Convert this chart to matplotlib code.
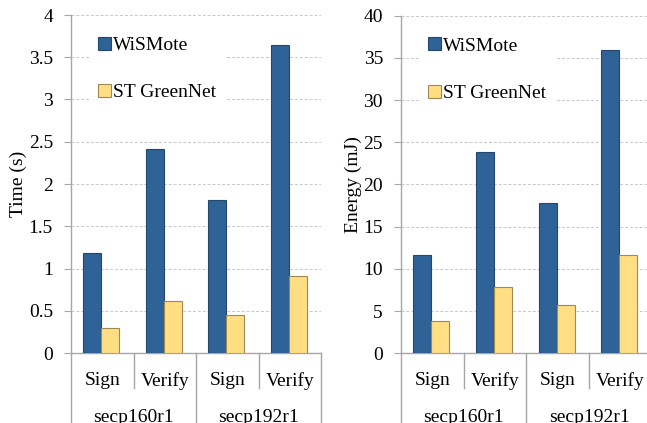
import matplotlib.pyplot as plt
from matplotlib.ticker import FuncFormatter
from matplotlib.patches import Patch

plt.rcParams['font.family'] = 'Liberation Serif'
plt.rcParams['font.size'] = 14

ops = ['Sign', 'Verify', 'Sign', 'Verify']
curves = ['secp160r1', 'secp192r1']
series = ['WiSMote', 'ST GreenNet']

time_wismote = [1.18, 2.42, 1.81, 3.64]
time_green = [0.30, 0.61, 0.45, 0.91]
energy_wismote = [11.6, 23.8, 17.8, 35.9]
energy_green = [3.8, 7.8, 5.7, 11.7]

blue = '#2F6297'
blue_edge = '#24476E'
yellow = '#FFDE84'
yellow_edge = '#A08850'
gray = '#A6A6A6'

W, H = 647, 423
fig = plt.figure(figsize=(W / 100, H / 100), dpi=100)


def draw(ax, a, b, ymax, step, ylabel, labelpad):
    x = list(range(len(ops)))
    w = 0.287
    ax.bar([i - 0.16 for i in x], a, w, color=blue, edgecolor=blue_edge, linewidth=0.8, zorder=3)
    ax.bar([i + 0.127 for i in x], b, w, color=yellow, edgecolor=yellow_edge, linewidth=0.8, zorder=3)
    ax.set_xlim(-0.5, len(ops) - 0.5)
    ax.set_ylim(0, ymax)
    ax.set_yticks([step * k for k in range(int(round(ymax / step)) + 1)])
    ax.yaxis.set_major_formatter(FuncFormatter(lambda v, p: '%g' % v))
    ax.set_xticks([])
    ax.yaxis.grid(True, color='#C8C8C8', linestyle=(0, (3, 2)), linewidth=0.7, zorder=0)
    ax.tick_params(axis='y', direction='out', length=5, color=gray, width=0.8, pad=8)
    for s in ['top', 'right']:
        ax.spines[s].set_visible(False)
    for s in ['left', 'bottom']:
        ax.spines[s].set_color(gray)
        ax.spines[s].set_linewidth(1.0)
    ax.set_ylabel(ylabel, labelpad=labelpad)

    tr = ax.get_xaxis_transform()
    # category separators below axis
    for k in range(len(ops) + 1):
        bottom = -0.104 if k % 2 == 1 else -0.3
        ax.plot([k - 0.5, k - 0.5], [0, bottom], transform=tr, color=gray,
                linewidth=1.0, clip_on=False)
    for i, op in enumerate(ops):
        ax.text(i, -0.082, op, transform=tr, ha='center', va='center')
    for j, c in enumerate(curves):
        ax.text(2 * j + 0.5, -0.19, c, transform=tr, ha='center', va='center')

    handles = [Patch(facecolor=blue, edgecolor=blue_edge, linewidth=0.8),
               Patch(facecolor=yellow, edgecolor=yellow_edge, linewidth=0.8)]
    leg = ax.legend(handles, series, loc='upper left', bbox_to_anchor=(0.07, 0.965),
                    frameon=True, framealpha=1, edgecolor='none', facecolor='white',
                    handlelength=0.65, handleheight=0.65, handletextpad=0.1,
                    labelspacing=1.55, borderpad=0.5, borderaxespad=0)
    leg.set_zorder(5)


ax1 = fig.add_axes([71 / W, (H - 353) / H, 250 / W, 338 / H])
draw(ax1, time_wismote, time_green, 4, 0.5, 'Time (s)', 1)

ax2 = fig.add_axes([401 / W, (H - 353.3) / H, 250.8 / W, 337.6 / H])
draw(ax2, energy_wismote, energy_green, 40, 5, 'Energy (mJ)', 1)

fig.savefig('out.png', dpi=100)
